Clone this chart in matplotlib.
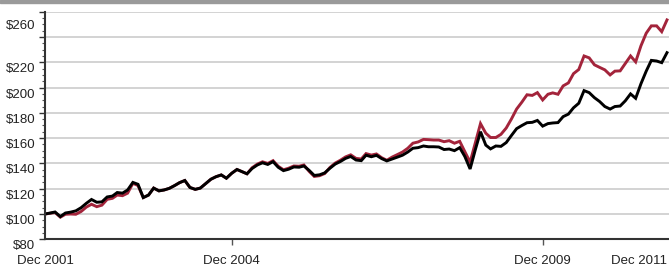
import numpy as np
import pandas as pd
import matplotlib
matplotlib.use("Agg")
import matplotlib.pyplot as plt
import matplotlib.dates as mdates
import matplotlib.transforms as mtransforms
from matplotlib.ticker import MultipleLocator

# growth of $100, month-end values Dec 2001 .. Dec 2011
dates = pd.date_range("2001-12-31", periods=121, freq="ME")

fund = [
    100, 100.8, 101.6, 98, 100.8, 101.5, 102.5, 105, 108.5, 111.5,
    109.3, 109.6, 113.5, 114.2, 117, 116.5, 119, 125, 123.5, 113,
    115, 120.5, 118.3, 119, 120.3, 122.5, 124.8, 126.5, 121, 119.5,
    120.5, 124, 127.5, 129.5, 130.9, 128.3, 132.2, 135.2, 133.6, 131.8,
    136, 138.8, 140.5, 139.2, 141.4, 137, 134.3, 135.4, 137.2, 137,
    138, 134.5, 130.5, 131, 132.5, 136.2, 139.5, 141.5, 144, 145.5,
    142.7, 142.2, 146.5, 145.3, 146.4, 143.8, 142, 143.5, 145, 146.5,
    149, 152, 152.5, 153.8, 153.2, 153.2, 153, 151, 151.4, 150.1,
    152.5, 145.5, 135.6, 150.6, 165.1, 154.5, 151.5, 153.8, 153.5, 156.5,
    162, 167.5, 170, 172.2, 172.5, 174, 169.5, 171.5, 172, 172.3,
    177, 179, 184, 187.6, 197.6, 196, 192, 189, 185, 183,
    185, 185.4, 189.5, 195, 191.5, 203, 213, 221.5, 221, 219.7,
    227.6,
]

index = [
    100, 100.6, 101.2, 97.5, 99.8, 100, 99.8, 102, 105.5, 107.7,
    105.8, 107, 111.6, 112.4, 115, 114.5, 116.5, 124.3, 122.5, 113,
    115, 120.5, 118.3, 119, 120.3, 122.5, 124.8, 126.5, 121, 119.5,
    120.5, 124, 127.5, 129.5, 130.9, 128.3, 132.2, 135.2, 133.6, 131.8,
    136.6, 139.5, 141.3, 140, 142.2, 137.8, 135, 136.2, 138, 137.8,
    138.8, 133.7, 129.7, 130.3, 132, 136.8, 140.3, 142.5, 145.2, 146.8,
    144, 143.5, 147.8, 146.6, 147.5, 144.5, 142.5, 145, 147, 149,
    152, 156, 157, 159, 158.8, 158.5, 158.5, 157.2, 158, 156,
    157.5, 149.3, 141, 156, 171.5, 163.9, 160.5, 160.5, 163, 168,
    175, 183, 188.5, 194.3, 193.8, 196, 190.2, 194.7, 195.8, 194.7,
    201.3, 203.7, 211, 214.3, 225, 223.5, 218, 216, 214, 210,
    213, 213.2, 219, 225, 220.3, 233, 243, 248.8, 248.8, 244.2,
    253.5,
]

y_ticks = [80, 100, 120, 140, 160, 180, 200, 220, 240, 260]
y_labels = ["$80", "$100", "$120", "$140", "$160", "$180", "$200", "$220", "", "$260"]
x_ticks = pd.to_datetime(["2001-12-31", "2004-12-31", "2009-12-31", "2011-12-31"])
x_labels = ["Dec 2001", "Dec 2004", "Dec 2009", "Dec 2011"]

plt.rcParams["font.family"] = ["Liberation Sans", "DejaVu Sans"]

W, H = 669, 267
fig = plt.figure(figsize=(W / 100, H / 100), dpi=100)
fig.patches.append(plt.Rectangle((0, 1 - 3.3 / H), 1, 3.3 / H, transform=fig.transFigure,
                                 color="#9a9a9a", zorder=0))

ax = fig.add_axes([45 / W, (H - 239.3) / H, 624 / W, (239.3 - 11.7) / H])

ax.plot(dates, index, color="#a3243b", lw=2.1, solid_joinstyle="miter", zorder=3)
ax.plot(dates, fund, color="black", lw=2.1, solid_joinstyle="miter", zorder=4)

x0 = mdates.date2num(dates[0])
x1 = mdates.date2num(dates[-1])
ax.set_xlim(x0, x0 + (x1 - x0) * 624 / 622)
ax.set_ylim(80, 260)

ax.set_yticks(y_ticks)
ax.set_yticklabels(y_labels)
ax.yaxis.set_minor_locator(MultipleLocator(5))
ax.grid(axis="y", color="#c8c8c8", lw=1.1, zorder=1)
ax.set_axisbelow(True)

ax.set_xticks(x_ticks)
ax.set_xticklabels(x_labels)

for s in ["top", "right"]:
    ax.spines[s].set_visible(False)
for s in ["left", "bottom"]:
    ax.spines[s].set_color("#333333")
    ax.spines[s].set_linewidth(1.5)
    ax.spines[s].set_zorder(5)

ax.tick_params(axis="y", which="major", length=4, width=1, color="#333333",
               labelsize=9.5, pad=3, labelcolor="#222222")
ax.tick_params(axis="y", which="minor", length=2.5, width=0.8, color="#555555")
ax.tick_params(axis="x", which="major", length=4, width=1, color="#555555",
               labelsize=9.5, pad=7, labelcolor="#222222")

xt = ax.xaxis.get_major_ticks()
xt[0].tick1line.set_visible(False)
xt[-1].tick1line.set_visible(False)
ax.get_xticklabels()[-1].set_horizontalalignment("right")

# labels sit a little below their gridlines in the original
for lab, v in zip(ax.get_yticklabels(), y_ticks):
    dy = -13 if v == 260 else -5.5
    lab.set_transform(lab.get_transform() + mtransforms.ScaledTranslation(0, dy / 100, fig.dpi_scale_trans))

fig.savefig("out.png", dpi=100)
